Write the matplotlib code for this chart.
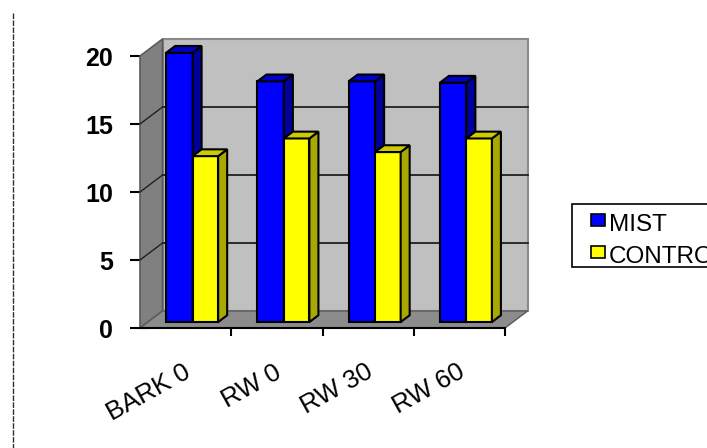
import numpy as np
import matplotlib
matplotlib.use("Agg")
import matplotlib.pyplot as plt
from matplotlib.patches import Polygon, Rectangle
from matplotlib.lines import Line2D

categories = ['BARK 0', 'RW 0', 'RW 30', 'RW 60']
mist = [19.8, 17.7, 17.7, 17.6]
control = [12.2, 13.5, 12.5, 13.5]
series_names = ['MIST', 'CONTROL']
y_ticks = [0, 5, 10, 15, 20]

W, H = 707, 448
plt.rcParams['font.family'] = ['Liberation Sans', 'DejaVu Sans']

# colours for front / side / top faces
blue = ('#0000ff', '#00009a', '#0000c8')
yellow = ('#ffff00', '#a8a800', '#cccc00')

# depth of the chart box in data units, and where bars sit inside it
ddx, ddy = 0.247, 1.25
f0, f1 = 0.35, 0.75


def fig_xy(x, y):
    return x / W, 1 - y / H


def draw_bars(ax, xs, heights, width, colors, z):
    fx, fy = f0 * ddx, f0 * ddy
    bx, by = (f1 - f0) * ddx, (f1 - f0) * ddy
    ax.bar(np.array(xs) + fx, heights, width, bottom=fy, align='edge',
           color=colors[0], edgecolor='black', linewidth=1.5, zorder=z,
           clip_on=False)
    for x, h in zip(xs, heights):
        x0 = x + fx
        side = [(x0 + width, fy), (x0 + width + bx, fy + by),
                (x0 + width + bx, fy + by + h), (x0 + width, fy + h)]
        top = [(x0, fy + h), (x0 + width, fy + h),
               (x0 + width + bx, fy + h + by), (x0 + bx, fy + h + by)]
        for pts, c in ((side, colors[1]), (top, colors[2])):
            ax.add_patch(Polygon(pts, closed=True, facecolor=c,
                                 edgecolor='black', linewidth=1.5,
                                 zorder=z, clip_on=False))


fig = plt.figure(figsize=(W / 100, H / 100), dpi=100)
ax = fig.add_axes([140 / W, 120 / H, 365 / W, 272 / H])
ax.set_xlim(0, len(categories))
ax.set_ylim(0, 20)
for s in ax.spines.values():
    s.set_visible(False)
ax.patch.set_visible(False)

n = len(categories)
top = y_ticks[-1]

# walls and floor
ax.add_patch(Polygon([(ddx, ddy), (n + ddx, ddy), (n + ddx, top + ddy), (ddx, top + ddy)],
                     facecolor='#c0c0c0', edgecolor='#8a8a8a', linewidth=1.5,
                     zorder=1, clip_on=False))
ax.add_patch(Polygon([(0, 0), (ddx, ddy), (ddx, top + ddy), (0, top)],
                     facecolor='#808080', edgecolor='#5a5a5a', linewidth=1.2,
                     zorder=2, clip_on=False))
ax.add_patch(Polygon([(0, 0), (n, 0), (n + ddx, ddy), (ddx, ddy)],
                     facecolor='#8c8c8c', edgecolor='#5a5a5a', linewidth=1.0,
                     zorder=2, clip_on=False))

# gridlines on back wall and side wall
for v in y_ticks[1:-1]:
    ax.plot([ddx, n + ddx], [v + ddy, v + ddy], color='#202020', lw=1.3,
            zorder=3, clip_on=False)
    ax.plot([0, ddx], [v, v + ddy], color='#202020', lw=1.0, zorder=3,
            clip_on=False)

xs = np.arange(n)
draw_bars(ax, xs + 0.2, mist, 0.29, blue, 4)
draw_bars(ax, xs + 0.49, control, 0.28, yellow, 5)

# front edge of floor
ax.plot([0, n], [0, 0], color='black', lw=1.5, zorder=6, clip_on=False)

ax.set_yticks(y_ticks)
ax.set_yticklabels([str(v) for v in y_ticks], fontsize=18, fontweight='bold')
ax.tick_params(axis='y', direction='inout', length=15, width=1.5, pad=12)

ax.set_xticks(np.arange(1, n + 1))
ax.set_xticklabels([])
ax.tick_params(axis='x', which='major', direction='out', length=6, width=1.5)
ax.set_xticks(xs + 0.47, minor=True)
ax.set_xticklabels(categories, minor=True, fontsize=18.5,
                   rotation=29, ha='right', va='top', rotation_mode='anchor')
ax.tick_params(axis='x', which='minor', length=0, pad=23)

# legend box, running off the right edge
bx0, by0 = fig_xy(572, 267)
bx1, by1 = fig_xy(730, 204)
fig.patches.append(Rectangle((bx0, by0), bx1 - bx0, by1 - by0,
                             transform=fig.transFigure, facecolor='white',
                             edgecolor='black', linewidth=1.2))
for i, (name, c) in enumerate(zip(series_names, (blue[0], yellow[0]))):
    cy = 220 + i * 32
    sx, sy = fig_xy(591, cy + 6)
    fig.patches.append(Rectangle((sx, sy), 14 / W, 12 / H,
                                 transform=fig.transFigure, facecolor=c,
                                 edgecolor='black', linewidth=1.2))
    tx, ty = fig_xy(609, cy + 5)
    fig.text(tx, ty, name, fontsize=17.5, ha='left', va='center')

# thin rule down the left side
lx0, ly0 = fig_xy(13, 13)
lx1, ly1 = fig_xy(13, 448)
fig.add_artist(Line2D([lx0, lx1], [ly0, ly1], transform=fig.transFigure,
                      color='#303030', lw=1.0, linestyle=(0, (4, 1))))

fig.savefig('out.png', dpi=100)
